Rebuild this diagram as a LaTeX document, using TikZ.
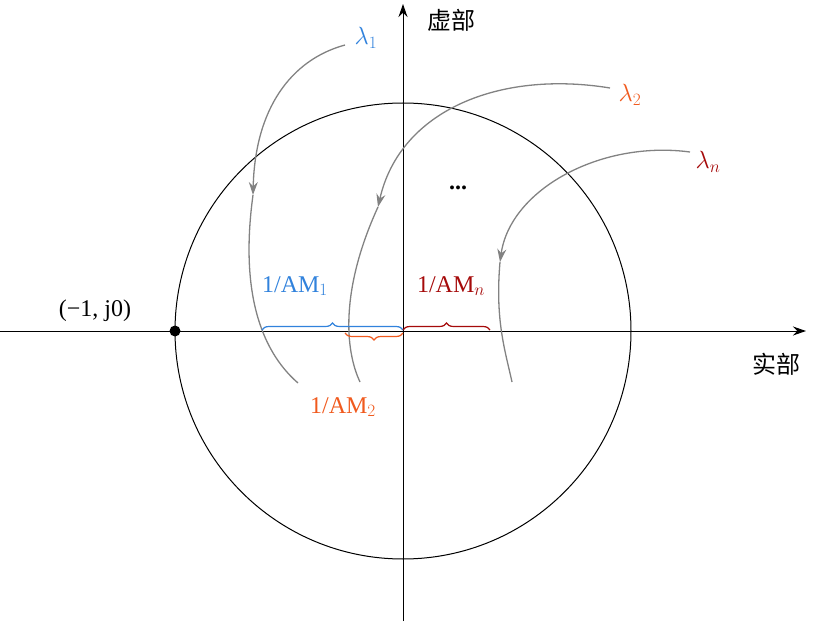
\documentclass[tikz,border=0pt]{standalone}
\usepackage{fontspec}
\setmainfont{Liberation Serif}
\newfontfamily\cjk{Noto Sans CJK SC}
\usetikzlibrary{arrows.meta,decorations.pathreplacing}
\definecolor{cblue}{RGB}{49,130,220}
\definecolor{corange}{RGB}{240,90,30}
\definecolor{cred}{RGB}{165,10,10}
\definecolor{cgray}{RGB}{130,130,130}
\begin{document}
\begin{tikzpicture}[x=1pt,y=-1pt,
  lbl/.style={font=\fontsize{24}{28}\selectfont,inner sep=1pt},
  axis/.style={line width=1pt,-{Stealth[length=13pt,width=9pt]}},
  curve/.style={cgray,line width=1.3pt},
  curvea/.style={curve,-{Stealth[length=13pt,width=9pt]}},
  brc/.style={line width=1.2pt,decorate,decoration={brace,amplitude=7pt}}]
\useasboundingbox (0,0) rectangle (815,623);
\coordinate (xl) at (0,331); \coordinate (xr) at (806,331);
\coordinate (yb) at (403,621); \coordinate (yt) at (403,4);
\coordinate (o) at (403,331);
\draw[line width=1pt] (o) circle[radius=228];
\draw[axis] (xl) -- (xr);
\draw[axis] (yb) -- (yt);
\node[circle,fill=black,inner sep=0,minimum size=11pt] (p) at (175,331) {};
\node[lbl] (pl) at (95,311) {(−1, j0)};
\node[lbl,font=\fontsize{24}{28}\selectfont\cjk] (im) at (451,20) {虚部};
\node[lbl,font=\fontsize{24}{28}\selectfont\cjk] (re) at (776,364) {实部};
\node[lbl] (dots) at (458,188) {\textbf{...}};
\node[lbl,text=cblue] (l1) at (366,38) {$\lambda_1$};
\node[lbl,text=corange] (l2) at (630,95) {$\lambda_2$};
\node[lbl,text=cred] (ln) at (708,162) {$\lambda_n$};
% curves
\coordinate (a1) at (345,45); \coordinate (m1) at (253,195); \coordinate (e1) at (298,383);
\draw[curvea] (a1) .. controls (290,60) and (255,110) .. (m1);
\draw[curve] (m1) .. controls (240,290) and (260,350) .. (e1);
\coordinate (a2) at (610,88); \coordinate (m2) at (378,207); \coordinate (e2) at (360,382);
\draw[curvea] (a2) .. controls (500,70) and (400,110) .. (m2);
\draw[curve] (m2) .. controls (340,290) and (345,350) .. (e2);
\coordinate (a3) at (690,152); \coordinate (m3) at (500,262); \coordinate (e3) at (512,382);
\draw[curvea] (a3) .. controls (600,140) and (510,190) .. (m3);
\draw[curve] (m3) .. controls (495,320) and (505,350) .. (e3);
% braces
\coordinate (b1l) at (262,330); \coordinate (b1r) at (403,330);
\draw[brc,cblue] (b1l) -- (b1r);
\coordinate (b2l) at (345,333); \coordinate (b2r) at (403,333);
\draw[brc,corange] (b2r) -- (b2l);
\coordinate (b3l) at (403,330); \coordinate (b3r) at (490,330);
\draw[brc,cred] (b3l) -- (b3r);
\node[lbl,text=cblue] (t1) at (295,286) {1/AM$_1$};
\node[lbl,text=corange] (t2) at (343,407) {1/AM$_2$};
\node[lbl,text=cred] (t3) at (451,286) {1/AM$_n$};
\end{tikzpicture}
\end{document}
